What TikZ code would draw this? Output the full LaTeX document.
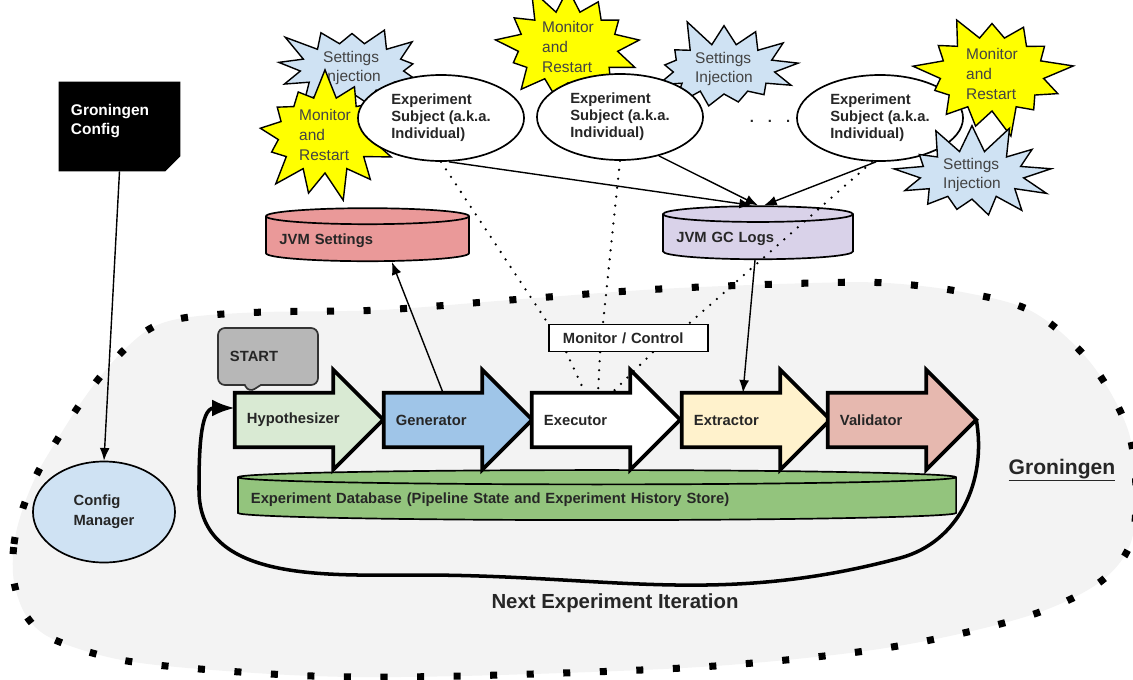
\documentclass[tikz,border=0pt]{standalone}
\usepackage{fontspec}
\setmainfont{Liberation Sans}
\usetikzlibrary{positioning, shapes, shapes.callouts, arrows.meta}

\definecolor{regionfill}{HTML}{F3F3F3}
\definecolor{cfgblue}{HTML}{CFE2F3}
\definecolor{hypfill}{HTML}{D9EAD3}
\definecolor{genfill}{HTML}{9FC5E8}
\definecolor{extfill}{HTML}{FFF2CC}
\definecolor{valfill}{HTML}{E6B8AF}
\definecolor{dbfill}{HTML}{93C47D}
\definecolor{setfill}{HTML}{EA9999}
\definecolor{logfill}{HTML}{D9D2E9}
\definecolor{startfill}{HTML}{B7B7B7}
\definecolor{burstyellow}{HTML}{FFFF00}
\definecolor{bursttext}{HTML}{434343}

\tikzset{
  lbl/.style={font=\fontsize{10.5}{12}\selectfont\bfseries, text=black!85},
  area/.style={fill=regionfill, line width=5pt, dash pattern=on 5pt off 21pt},
  stage/.style={rectangle, minimum width=2.45cm, minimum height=1.35cm, inner sep=0pt},
  stageline/.style={line width=2.6pt, line join=miter},
  stagetext/.style={lbl, anchor=west, xshift=0.3cm, inner sep=0pt},
  subject/.style={ellipse, draw, line width=1.2pt, fill=white, minimum width=4.15cm,
    minimum height=2.15cm, align=left, lbl, inner sep=0pt},
  burst/.style={starburst, draw, line width=1pt, starburst points=13,
    starburst point height=0.75cm, align=left, text=bursttext,
    font=\fontsize{11}{14}\selectfont, inner sep=0pt},
  store/.style={cylinder, shape border rotate=90, draw, line width=1.2pt, lbl,
    align=left, inner xsep=0.3cm, inner ysep=0pt},
  conn/.style={line width=1pt, -{Latex[length=9pt,width=7pt]}},
  ctrl/.style={line width=1.8pt, line cap=round, dash pattern=on 0pt off 6.4pt},
  loopline/.style={line width=2.5pt, -{Latex[length=16pt,width=12pt]}},
}

\begin{document}
\begin{tikzpicture}[x=0.025cm, y=-0.025cm]
  \useasboundingbox (0,0) rectangle (1133,679);

  % the Groningen area
  \draw[area] plot[smooth cycle, tension=.55] coordinates {(14,582) (14,544) (23,508)
    (38,472) (57,440) (78,407) (100,377) (125,349) (153,327) (190,317) (265,312)
    (380,310) (510,300) (660,289) (812,283) (887,283) (962,292) (1033,312) (1090,362)
    (1127,427) (1136,490) (1130,545) (1100,582) (1040,612) (950,636) (850,653)
    (700,667) (500,675) (353,677) (240,672) (127,661) (55,640) (27,617)};

  % bursts behind the subjects
  \node[burst, fill=cfgblue, minimum width=4.1cm, minimum height=2.75cm, random starburst=3] (inj1) at (352,68) {Settings\\Injection};
  \node[burst, fill=burstyellow, minimum width=3.85cm, minimum height=3.4cm, random starburst=7] (mon1) at (325,135) {Monitor\\and\\Restart};
  \node[burst, fill=burstyellow, minimum width=4cm, minimum height=2.8cm, random starburst=11] (mon2) at (568,47) {Monitor\\and\\Restart};
  \node[burst, fill=cfgblue, minimum width=4.05cm, minimum height=2.75cm, random starburst=5] (inj2) at (724,69) {Settings\\Injection};

  % experiment subjects
  \node[subject] (subj1) at (441,118) {Experiment\\Subject (a.k.a.\\Individual)};
  \node[subject] (subj2) at (620,117) {Experiment\\Subject (a.k.a.\\Individual)};
  \node[subject] (subj3) at (880,118) {Experiment\\Subject (a.k.a.\\Individual)};
  \node[lbl] (more) at (770,121) {.\hspace{10pt}.\hspace{10pt}.};

  \node[burst, fill=burstyellow, minimum width=4.1cm, minimum height=3.35cm, random starburst=9] (mon3) at (992,74) {Monitor\\and\\Restart};
  \node[burst, fill=cfgblue, minimum width=4.1cm, minimum height=2.7cm, random starburst=4] (inj3) at (972,175) {Settings\\Injection};

  % stores
  \node[store, fill=setfill, minimum width=5.075cm, minimum height=1.325cm, aspect=0.08, text width=4.4cm] (jvmset) at (367.5,241) {JVM Settings};
  \node[store, fill=logfill, minimum width=4.75cm, minimum height=1.325cm, aspect=0.084, text width=4.08cm] (gclogs) at (758,239) {JVM GC Logs};
  \node[store, fill=dbfill, minimum width=17.95cm, minimum height=1.25cm, aspect=0.02, text width=17.3cm] (db) at (597,500) {Experiment Database (Pipeline State and Experiment History Store)};

  % config
  \node[rectangle, minimum width=3.025cm, minimum height=2.225cm, inner sep=0pt] (gconfig) at (119.5,126.5) {};
  \fill (gconfig.north west) -- (gconfig.north east) -- ([yshift=0.375cm]gconfig.south east) -- ([xshift=-0.375cm]gconfig.south east) -- (gconfig.south west) -- cycle;
  \node[anchor=north west, xshift=0.3cm, yshift=-0.55cm, align=left, text=white, inner sep=0pt, font=\fontsize{11}{14}\selectfont\bfseries] (gconfigtext) at (gconfig.north west) {Groningen\\Config};
  \node[ellipse, draw, fill=cfgblue, line width=1.2pt, minimum width=3.55cm, minimum height=2.525cm, lbl, font=\fontsize{10.5}{14}\selectfont\bfseries, align=left] (cfgmgr) at (104,512) {Config\\Manager};

  % pipeline
  \node[stage] (hyp) at (284,420) {};
  \draw[stageline, fill=hypfill] (hyp.north west) -- (hyp.north east) -- ++(0,-23) -- ++(50,50) coordinate (hyptip) -- ++(-50,50) -- (hyp.south east) -- (hyp.south west) -- cycle;
  \node[stagetext] (hyptext) at (hyp.west) {Hypothesizer};

  \node[stage] (gen) at (433,420) {};
  \draw[stageline, fill=genfill] (gen.north west) -- (gen.north east) -- ++(0,-23) -- ++(50,50) coordinate (gentip) -- ++(-50,50) -- (gen.south east) -- (gen.south west) -- cycle;
  \node[stagetext] (gentext) at (gen.west) {Generator};

  \node[stage] (exe) at (581,420) {};
  \draw[stageline, fill=white] (exe.north west) -- (exe.north east) -- ++(0,-23) -- ++(50,50) coordinate (exetip) -- ++(-50,50) -- (exe.south east) -- (exe.south west) -- cycle;
  \node[stagetext] (exetext) at (exe.west) {Executor};

  \node[stage] (ext) at (731,420) {};
  \draw[stageline, fill=extfill] (ext.north west) -- (ext.north east) -- ++(0,-23) -- ++(50,50) coordinate (exttip) -- ++(-50,50) -- (ext.south east) -- (ext.south west) -- cycle;
  \node[stagetext] (exttext) at (ext.west) {Extractor};

  \node[stage] (val) at (877,420) {};
  \draw[stageline, fill=valfill] (val.north west) -- (val.north east) -- ++(0,-23) -- ++(50,50) coordinate (valtip) -- ++(-50,50) -- (val.south east) -- (val.south west) -- cycle;
  \node[stagetext] (valtext) at (val.west) {Validator};

  \node[rectangle callout, draw=black!80, line width=1.2pt, fill=startfill, rounded corners=5pt, lbl, text width=1.9cm, align=left, inner xsep=0.3cm, minimum height=1.425cm, callout pointer width=0.4cm, callout absolute pointer={([xshift=0.35cm]hyp.north west)}] (start) at (268,356.5) {START};

  \node[draw, fill=white, line width=1pt, lbl, minimum width=3.975cm, minimum height=0.675cm, text width=3.275cm, align=left, inner xsep=0.35cm, inner ysep=0pt] (monitor) at (628.5,338) {Monitor / Control};

  % labels
  \node[font=\fontsize{15}{18}\selectfont\bfseries, text=black!85] (grlabel) at (1062,470) {\underline{Groningen}};
  \node[font=\fontsize{14.5}{17}\selectfont\bfseries, text=black!85] (nextlabel) at (615,603) {Next Experiment Iteration};

  % connectors
  \draw[conn] (gconfig.south) -- (cfgmgr.north);
  \draw[conn] ([xshift=0.25cm]gen.north) -- ([xshift=0.61cm]jvmset.south);
  \draw[conn] ([xshift=-0.075cm]gclogs.south) -- ([xshift=0.3cm]ext.north);
  \draw[conn] ([xshift=0.2cm]subj1.south) -- ([xshift=-0.15cm]gclogs.north);
  \draw[conn] (subj2.-45) -- (gclogs.north);
  \draw[conn] ([xshift=-0.1cm]subj3.south) -- ([xshift=0.15cm]gclogs.north);

  \draw[ctrl] (subj1.south) -- (monitor.north west);
  \draw[ctrl] (subj2.south) -- ([xshift=-0.64cm]monitor.north);
  \draw[ctrl] ([xshift=-0.2cm]subj3.south) -- ([xshift=-0.5cm]monitor.north east);
  \draw[ctrl] ([xshift=0.45cm]monitor.south west) -- ([xshift=0.1cm]exe.north);
  \draw[ctrl] ([xshift=-0.71cm]monitor.south) -- ([xshift=0.425cm]exe.north);
  \draw[ctrl] ([xshift=0.61cm]monitor.south) -- ([xshift=0.775cm]exe.north);

  \draw[loopline] (valtip) to[out=-80, in=15] (900,558) to[out=195, in=0] (420,575)
    to[out=180, in=-90] (199,490) to[out=90, in=180] ([yshift=0.3cm]hyp.west);
\end{tikzpicture}
\end{document}
